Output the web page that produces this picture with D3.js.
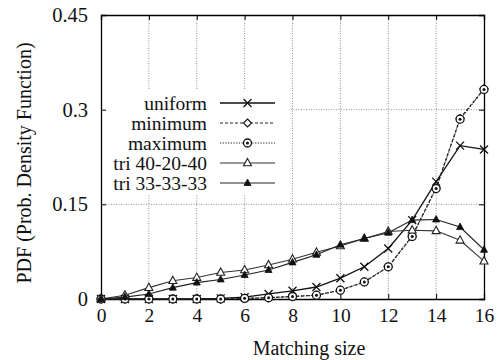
<!DOCTYPE html>
<html><head><meta charset="utf-8">
<script src="https://cdn.jsdelivr.net/npm/d3@7"></script>
<style>body{margin:0;background:#fff}svg{display:block}
svg text{font-family:"Liberation Serif","Times New Roman",Times,serif !important;}</style>
</head><body>
<script>
const xs = [0,1,2,3,4,5,6,7,8,9,10,11,12,13,14,15,16];
const uniform = [0,0,0,0,0,0.001,0.003,0.008,0.013,0.019,0.033,0.051,0.080,0.125,0.186,0.243,0.237];
const minimum = [0,0,0,0,0,0,0.001,0.002,0.004,0.006,0.014,0.027,0.051,0.100,0.176,0.286,0.333];
const maximum = [0,0,0,0,0,0,0.001,0.002,0.004,0.006,0.014,0.027,0.051,0.099,0.175,0.285,0.332];
const tri402040 = [0,0.006,0.018,0.029,0.034,0.042,0.046,0.054,0.063,0.074,0.084,0.096,0.107,0.109,0.108,0.093,0.060];
const tri333333 = [0,0.003,0.008,0.018,0.026,0.031,0.038,0.046,0.058,0.070,0.086,0.096,0.105,0.125,0.126,0.114,0.078];
const seriesNames = ["uniform","minimum","maximum","tri 40-20-40","tri 33-33-33"];
const xTicks = [0,2,4,6,8,10,12,14,16];
const yTicks = [0,0.15,0.3,0.45];
const yTickLabels = ["0","0.15","0.3","0.45"];

const W=498,H=360;
const m={l:101,r:14,t:15,b:61};
const svg=d3.select("body").append("svg").attr("width",W).attr("height",H);
const x=d3.scaleLinear().domain([0,16]).range([m.l,W-m.r]);
const y=d3.scaleLinear().domain([0,0.45]).range([H-m.b,m.t]);

// grid
const g=svg.append("g");
g.selectAll(".vg").data(xTicks.slice(1,-1)).join("line")
  .attr("x1",d=>x(d)).attr("x2",d=>x(d)).attr("y1",y(0)).attr("y2",y(0.45))
  .attr("stroke","#777").attr("stroke-width",0.8).attr("stroke-dasharray","1,1.5");
g.selectAll(".hg").data(yTicks.slice(1,-1)).join("line")
  .attr("x1",x(0)).attr("x2",x(16)).attr("y1",d=>y(d)).attr("y2",d=>y(d))
  .attr("stroke","#777").attr("stroke-width",0.8).attr("stroke-dasharray","1,1.5");

// legend background (hides grid)
svg.append("rect").attr("x",x(0)+1).attr("y",90).attr("width",187).attr("height",105).attr("fill","#fff");

// axes
const fs=19.5;
const xa=svg.append("g").attr("transform",`translate(0,${y(0)})`)
  .call(d3.axisBottom(x).tickValues(xTicks).tickSize(-5).tickPadding(9).tickFormat(d3.format("d")));
const xa2=svg.append("g").attr("transform",`translate(0,${y(0.45)})`)
  .call(d3.axisTop(x).tickValues(xTicks).tickSize(-5).tickFormat(""));
const ya=svg.append("g").attr("transform",`translate(${x(0)},0)`)
  .call(d3.axisLeft(y).tickValues(yTicks).tickSize(-5).tickPadding(13).tickFormat((d,i)=>yTickLabels[i]));
const ya2=svg.append("g").attr("transform",`translate(${x(16)},0)`)
  .call(d3.axisRight(y).tickValues(yTicks).tickSize(-5).tickFormat(""));
[xa,xa2,ya,ya2].forEach(a=>{
  a.attr("font-family",null);
  a.select(".domain").attr("stroke","#000").attr("stroke-width",1.3);
  a.selectAll(".tick line").attr("stroke","#000").attr("stroke-width",1);
  a.selectAll("text").attr("font-size",fs).attr("fill","#111");
});
ya.selectAll("text").attr("font-size",20.5);

svg.append("text").attr("x",309).attr("y",355).attr("text-anchor","middle")
  .attr("font-size",20).attr("fill","#111").text("Matching size");
svg.append("text").attr("transform",`translate(31,163) rotate(-90)`)
  .attr("text-anchor","middle").attr("font-size",20).attr("fill","#111").text("PDF (Prob. Density Function)");

// markers
function marker(sel,type,cx,cy){
  const gg=sel.append("g").attr("transform",`translate(${cx},${cy})`);
  if(type==="x"){
    gg.append("path").attr("d","M-4,-4L4,4M-4,4L4,-4").attr("stroke","#111").attr("stroke-width",1.3).attr("fill","none");
  } else if(type==="diamond"){
    gg.append("path").attr("d","M0,-4L4,0L0,4L-4,0Z").attr("stroke","#111").attr("stroke-width",1.1).attr("fill","#fff");
  } else if(type==="circle"){
    gg.append("circle").attr("r",4).attr("stroke","#111").attr("stroke-width",1.3).attr("fill","#fff");
    gg.append("circle").attr("r",1.5).attr("fill","#111");
  } else if(type==="tri"){
    gg.append("path").attr("d","M0,-4.5L4,2.8L-4,2.8Z").attr("stroke","#222").attr("stroke-width",1.1).attr("fill","#fff");
  } else if(type==="ftri"){
    gg.append("path").attr("d","M0,-4L3.5,2.5L-3.5,2.5Z").attr("stroke","#111").attr("stroke-width",0.8).attr("fill","#111");
  }
}

const series=[
  {name:seriesNames[0],vals:uniform,dash:null,mk:"x",w:1.3,c:"#111"},
  {name:seriesNames[1],vals:minimum,dash:"3,2",mk:"diamond",w:1.2,c:"#222"},
  {name:seriesNames[2],vals:maximum,dash:"1.2,1.5",mk:"circle",w:1.2,c:"#222"},
  {name:seriesNames[3],vals:tri402040,dash:null,mk:"tri",w:1.1,c:"#333"},
  {name:seriesNames[4],vals:tri333333,dash:null,mk:"ftri",w:1.1,c:"#222"}
];
const line=d3.line().x((d,i)=>x(xs[i])).y(d=>y(d));
const pg=svg.append("g");
series.forEach(s=>{
  pg.append("path").datum(s.vals).attr("d",line).attr("fill","none").attr("stroke",s.c)
    .attr("stroke-width",s.w).attr("stroke-dasharray",s.dash);
});
series.forEach(s=>{
  s.vals.forEach((v,i)=>marker(pg,s.mk,x(xs[i]),y(v)));
});

// legend
const lg=svg.append("g");
series.forEach((s,i)=>{
  const yy=103+i*20;
  lg.append("text").attr("x",207).attr("y",yy).attr("dy","0.35em").attr("text-anchor","end")
    .attr("font-size",fs).attr("fill","#111").text(s.name);
  lg.append("line").attr("x1",220).attr("x2",275).attr("y1",yy).attr("y2",yy).attr("stroke",s.c)
    .attr("stroke-width",s.w).attr("stroke-dasharray",s.dash);
  marker(lg,s.mk,247.5,yy);
});
</script>
</body></html>
